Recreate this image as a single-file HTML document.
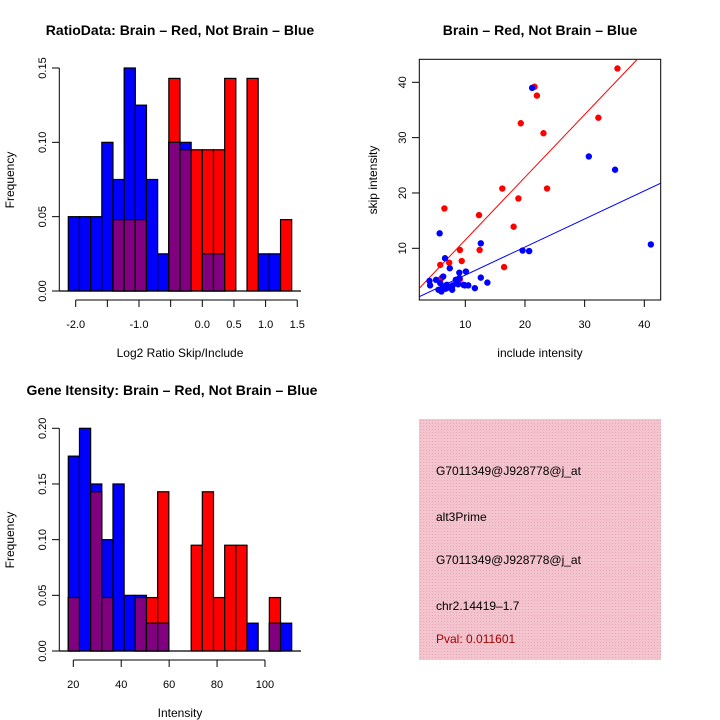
<!DOCTYPE html>
<html><head><meta charset="utf-8"><style>
body{margin:0;background:#fff}
svg{display:block;font-family:"Liberation Sans",sans-serif}
</style></head><body>
<svg id="c" width="720" height="720" viewBox="0 0 720 720">
<rect width="720" height="720" fill="#fff"/>
<text x="180" y="35" text-anchor="middle" font-size="14" font-weight="bold">RatioData: Brain – Red, Not Brain – Blue</text>
<text x="540" y="35" text-anchor="middle" font-size="14" font-weight="bold">Brain – Red, Not Brain – Blue</text>
<text x="172" y="395" text-anchor="middle" font-size="14" font-weight="bold">Gene Itensity: Brain – Red, Not Brain – Blue</text>
<text x="180" y="357" text-anchor="middle" font-size="12">Log2 Ratio Skip/Include</text>
<text x="14" y="180" text-anchor="middle" font-size="12" transform="rotate(-90 14 180)">Frequency</text>
<text x="540" y="357" text-anchor="middle" font-size="12">include intensity</text>
<text x="377" y="180" text-anchor="middle" font-size="12" transform="rotate(-90 377 180)">skip intensity</text>
<text x="180" y="717" text-anchor="middle" font-size="12">Intensity</text>
<text x="14" y="540" text-anchor="middle" font-size="12" transform="rotate(-90 14 540)">Frequency</text>
<defs><pattern id="hp" width="3" height="3" patternUnits="userSpaceOnUse"><rect width="3" height="3" fill="#f4c4ce"/><rect width="1" height="1" fill="#e8a8b8"/></pattern></defs>
<rect x="419" y="419" width="242" height="241" fill="url(#hp)"/>
<g font-size="12">
<text x="436" y="475">G7011349@J928778@j_at</text>
<text x="436" y="521">alt3Prime</text>
<text x="436" y="564">G7011349@J928778@j_at</text>
<text x="436" y="610">chr2.14419–1.7</text>
<text x="436" y="643" fill="#a00000">Pval: 0.011601</text>
</g>
</svg>
<script>
// ratio histogram data
const ratioBlue=[0.05,0.05,0.05,0.10,0.075,0.15,0.125,0.075,0.025,0.10,0.10,0,0.025,0.025,0,0,0,0.025,0.025,0];
const ratioRed=[0,0,0,0,0.048,0.048,0.048,0,0,0.143,0.095,0.095,0.095,0.095,0.143,0,0.143,0,0,0.048];
const ratioTicks=[-2,-1.5,-1,-0.5,0,0.5,1,1.5];
const ratioTickLabels=["-2.0","","-1.0","","0.0","0.5","1.0","1.5"];
const ratioYTicks=[0,0.05,0.10,0.15];
const ratioYLabels=["0.00","0.05","0.10","0.15"];
// gene intensity histogram data
const geneBlue=[0.175,0.20,0.15,0.10,0.15,0.05,0.05,0.025,0.025,0,0,0,0,0,0,0,0.025,0,0.025,0.025];
const geneRed=[0.048,0,0.143,0.048,0,0,0.048,0.048,0.143,0,0,0.095,0.143,0.048,0.095,0.095,0,0,0.048,0];
const geneTicks=[20,40,60,80,100];
const geneYTicks=[0,0.05,0.10,0.15,0.20];
const geneYLabels=["0.00","0.05","0.10","0.15","0.20"];
// scatter data
const redX=[35.5,21.6,22.0,19.3,23.1,32.3,16.2,23.7,18.9,18.1,12.3,6.5,9.1,12.4,9.4,7.3,5.8,16.5,6.0,9.1];
const redY=[42.5,39.2,37.6,32.6,30.8,33.6,20.8,20.8,19.0,13.9,16.0,17.2,9.7,9.7,7.7,7.4,7.0,6.6,4.6,4.4];
const blueX=[21.2,30.7,35.1,41.1,5.7,12.6,19.6,20.7,6.6,7.4,10.1,9.0,6.3,12.6,9.0,8.4,4.0,5.1,13.7,4.1,5.8,6.9,7.9,8.8,9.9,10.5,11.6,5.5,6.0,6.7,7.8,6.3,9.7,7.3];
const blueY=[39.0,26.6,24.2,10.7,12.7,10.9,9.6,9.5,8.2,6.4,5.8,5.6,4.9,4.7,4.6,4.3,4.1,4.3,3.8,3.3,3.7,3.4,3.3,3.5,3.3,3.3,2.8,2.5,2.2,2.7,2.5,3.1,3.4,2.9];
const redFit=[0.18,1.133];
const blueFit=[0.09,0.507];
const scatterXTicks=[10,20,30,40];
const scatterYTicks=[10,20,30,40];

const svg=document.getElementById('c');
const NS='http://www.w3.org/2000/svg';
function mk(tag,attrs,parent){const e=document.createElementNS(NS,tag);for(const k in attrs)e.setAttribute(k,attrs[k]);(parent||svg).appendChild(e);return e;}

function hist(blue,red,x0,binW,base,yPerUnit,prefix){
  const g=mk('g',{});
  
  
  const y=v=>base-v*yPerUnit;
  for(let i=0;i<blue.length;i++){
    const x=x0+i*binW;
    if(blue[i]>0){const r=mk('rect',{x:x,y:y(blue[i]),width:binW,height:blue[i]*yPerUnit,fill:'#0000ff',stroke:'#000','stroke-width':1.2},g);
      
      }
    if(red[i]>0){const r=mk('rect',{x:x,y:y(red[i]),width:binW,height:red[i]*yPerUnit,fill:'#ff0000',stroke:'#000','stroke-width':1.2},g);
      
      }
    const m=Math.min(blue[i],red[i]);
    if(m>0){const r=mk('rect',{x:x,y:y(m),width:binW,height:m*yPerUnit,fill:'#800080',stroke:'#000','stroke-width':1.2},g);
      
      }
  }
  mk('line',{x1:59.3,x2:301,y1:base,y2:base,stroke:'#000','stroke-width':1.2});
}
function yaxis(ticks,labels,base,yPerUnit,name){
  const g=mk('g',{});
  
  
  const y=v=>base-v*yPerUnit;
  mk('line',{x1:59.3,x2:59.3,y1:y(ticks[0]),y2:y(ticks[ticks.length-1]),stroke:'#000'},g);
  ticks.forEach((t,i)=>{mk('line',{x1:52,x2:59.3,y1:y(t),y2:y(t),stroke:'#000'},g);
    const tx=mk('text',{x:46,y:y(t),'text-anchor':'middle','font-size':11,transform:`rotate(-90 46 ${y(t)})`},g);tx.textContent=labels[i];});
}
function xaxis(ticks,labels,sx,ay,name){
  const g=mk('g',{});
  
  
  mk('line',{x1:sx(ticks[0]),x2:sx(ticks[ticks.length-1]),y1:ay,y2:ay,stroke:'#000'},g);
  ticks.forEach((t,i)=>{mk('line',{x1:sx(t),x2:sx(t),y1:ay,y2:ay+7,stroke:'#000'},g);
    const tx=mk('text',{x:sx(t),y:ay+28,'text-anchor':'middle','font-size':11},g);tx.textContent=labels[i];});
}
// ratio hist
const rsx=v=>75.7+(v+2)*63.3;
hist(ratioBlue,ratioRed,68.3,11.17,291,1486.7,'ratio');
yaxis(ratioYTicks,ratioYLabels,291,1486.7,'ratio-y-axis');
xaxis(ratioTicks,ratioTickLabels,rsx,300,'ratio-x-axis');
// gene hist
const gsx=v=>73.3+(v-20)*2.396;
hist(geneBlue,geneRed,68.3,11.17,651,1113.5,'gene');
yaxis(geneYTicks,geneYLabels,651,1113.5,'gene-y-axis');
xaxis(geneTicks,geneTicks.map(String),gsx,660,'gene-x-axis');
// scatter
const ssx=v=>465.3+(v-10)*5.967, ssy=v=>248.3-(v-10)*5.533;
const sg=mk('g',{});


mk('rect',{x:419.3,y:59.3,width:241.4,height:240.7,fill:'none',stroke:'#000'},sg);
const cp=mk('clipPath',{id:'sc'});mk('rect',{x:419.3,y:59.3,width:241.4,height:240.7},cp);
[[redFit,'#ff0000','red-fit-line'],[blueFit,'#0000ff','blue-fit-line']].forEach(([f,c,n])=>{
  const l=mk('line',{x1:ssx(0),y1:ssy(f[0]),x2:ssx(50),y2:ssy(f[0]+f[1]*50),stroke:c,'stroke-width':1,'clip-path':'url(#sc)'},sg);
  
  
});
redX.forEach((v,i)=>{const c=mk('circle',{cx:ssx(v),cy:ssy(redY[i]),r:3.2,fill:'#ff0000'},sg);
  
  });
blueX.forEach((v,i)=>{const c=mk('circle',{cx:ssx(v),cy:ssy(blueY[i]),r:3.2,fill:'#0000ff'},sg);
  
  });
scatterXTicks.forEach(t=>{mk('line',{x1:ssx(t),x2:ssx(t),y1:300,y2:307,stroke:'#000'},sg);
  const tx=mk('text',{x:ssx(t),y:328,'text-anchor':'middle','font-size':11},sg);tx.textContent=t;});
scatterYTicks.forEach(t=>{mk('line',{x1:412,x2:419.3,y1:ssy(t),y2:ssy(t),stroke:'#000'},sg);
  const tx=mk('text',{x:406,y:ssy(t),'text-anchor':'middle','font-size':11,transform:`rotate(-90 406 ${ssy(t)})`},sg);tx.textContent=t;});
</script>
</body></html>
